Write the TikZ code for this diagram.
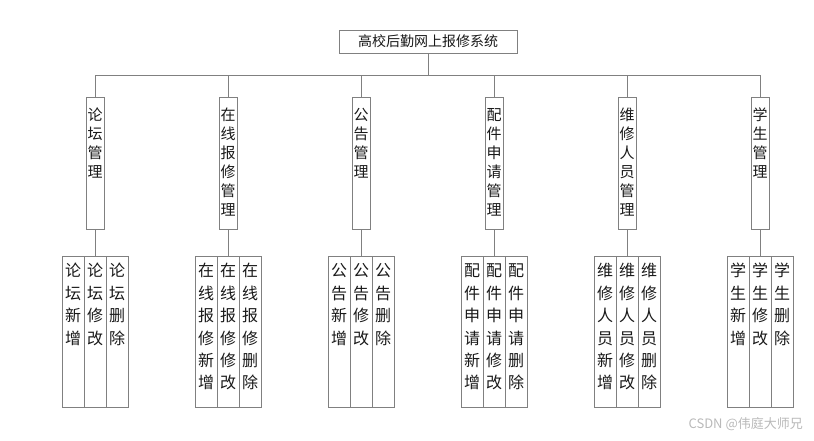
\documentclass[tikz,border=0pt]{standalone}
\usepackage{fontspec}
\setmainfont{Noto Sans CJK SC}
\definecolor{lncol}{RGB}{128,128,128}
\definecolor{txt}{RGB}{25,25,25}
\definecolor{wmcol}{RGB}{185,185,185}
\tikzset{
  ln/.style={draw=lncol, line width=0.8pt},
  rootbox/.style={ln, fill=white, minimum width=178pt, minimum height=23pt, inner sep=0pt, text=txt, font=\fontsize{14}{16}\selectfont},
  modbox/.style={ln, fill=white, minimum width=18pt, minimum height=132pt, inner sep=0pt, anchor=north},
  subbox/.style={ln, fill=white, minimum width=22pt, minimum height=151pt, inner sep=0pt, anchor=north},
  ch/.style={inner sep=0pt, text height=0.88em, text depth=0.12em, text=txt},
}
\newcommand{\vchars}[6]{%
  \foreach \chr [count=\k] in {#6} {
    \node[ch, font=\fontsize{#5}{#5}\selectfont] (#1-\k) at ({#2},{#3+(\k-1)*#4}) {\chr};
  }%
}
\newcommand{\module}[3]{%
  \node[modbox] (m#1) at (#2,97) {};
  \vchars{m#1t}{#2}{117}{19}{15}{#3,管,理}
  \node[subbox] (s#1a) at ({#2-22},256) {};
  \node[subbox] (s#1b) at (#2,256) {};
  \node[subbox] (s#1c) at ({#2+22},256) {};
  \vchars{s#1at}{#2-22}{273}{22.4}{16}{#3,新,增}
  \vchars{s#1bt}{#2}{273}{22.4}{16}{#3,修,改}
  \vchars{s#1ct}{#2+22}{273}{22.4}{16}{#3,删,除}
  \draw[ln] (root.south) -- (bus) -| (m#1.north);
  \draw[ln] (m#1.south) -- (s#1b.north);
}
\begin{document}
\begin{tikzpicture}[x=1pt,y=-1pt]
  \useasboundingbox (0,0) rectangle (814,440);
  \node[rootbox] (root) at (428,41.5) {高校后勤网上报修系统};
  \coordinate (bus) at (428,75);
  \module{1}{95}{论,坛}
  \module{2}{228}{在,线,报,修}
  \module{3}{361}{公,告}
  \module{4}{494}{配,件,申,请}
  \module{5}{627}{维,修,人,员}
  \module{6}{760}{学,生}
  \node[anchor=east, inner sep=0pt, text=wmcol, font=\fontsize{13}{13}\selectfont] (wm) at (803,424) {CSDN @伟庭大师兄};
\end{tikzpicture}
\end{document}
